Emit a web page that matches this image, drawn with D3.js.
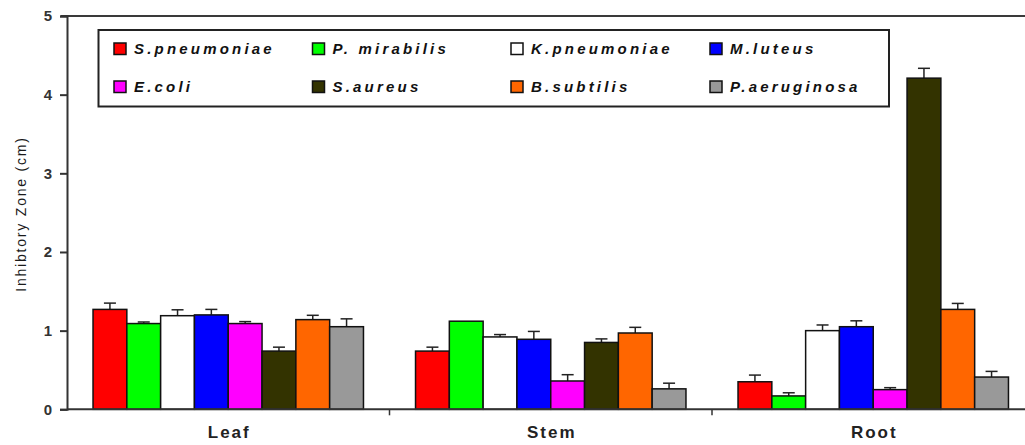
<!DOCTYPE html>
<html>
<head>
<meta charset="utf-8">
<script src="https://cdn.jsdelivr.net/npm/d3@7/dist/d3.min.js"></script>
<style>
html,body{margin:0;padding:0;background:#fff;}
svg{display:block;}
</style>
</head>
<body>
<svg id="chart" width="1025" height="445"></svg>
<script>
const categories = ["Leaf", "Stem", "Root"];
const seriesNames = ["S.pneumoniae", "P. mirabilis", "K.pneumoniae", "M.luteus", "E.coli", "S.aureus", "B.subtilis", "P.aeruginosa"];
const seriesColors = ["#ff0000", "#00ff00", "#ffffff", "#0000ff", "#ff00ff", "#333300", "#ff6600", "#999999"];
// values per series: [Leaf, Stem, Root]
const sPneumoniae = [1.27, 0.74, 0.35];
const pMirabilis = [1.09, 1.12, 0.17];
const kPneumoniae = [1.19, 0.92, 1.00];
const mLuteus = [1.20, 0.89, 1.05];
const eColi = [1.09, 0.36, 0.25];
const sAureus = [0.74, 0.85, 4.21];
const bSubtilis = [1.14, 0.97, 1.27];
const pAeruginosa = [1.05, 0.26, 0.41];
// error (upper) per series: [Leaf, Stem, Root]
const errSPneumoniae = [0.08, 0.05, 0.085];
const errPMirabilis = [0.02, 0.0, 0.04];
const errKPneumoniae = [0.075, 0.03, 0.072];
const errMLuteus = [0.07, 0.10, 0.075];
const errEColi = [0.025, 0.08, 0.025];
const errSAureus = [0.05, 0.045, 0.125];
const errBSubtilis = [0.055, 0.072, 0.076];
const errPAeruginosa = [0.10, 0.072, 0.072];
const yTicks = [0, 1, 2, 3, 4, 5];

const values = [sPneumoniae, pMirabilis, kPneumoniae, mLuteus, eColi, sAureus, bSubtilis, pAeruginosa];
const errors = [errSPneumoniae, errPMirabilis, errKPneumoniae, errMLuteus, errEColi, errSAureus, errBSubtilis, errPAeruginosa];

const svg = d3.select("#chart");
const x0 = d3.scaleBand().domain(categories).range([67, 1034.5]).paddingInner(0).paddingOuter(0);
const x1 = d3.scaleBand().domain(seriesNames).range([0, x0.bandwidth()]).paddingInner(0).paddingOuter(0.77);
const y = d3.scaleLinear().domain([0, 5]).range([409.3, 16]);

const axisColor = "#333";

// top frame line
svg.append("line").attr("x1", 61).attr("x2", 1025).attr("y1", y(5)).attr("y2", y(5))
  .attr("stroke", "#3a3a3a").attr("stroke-width", 2.2);

// bars
const data = [];
categories.forEach((c, ci) => {
  seriesNames.forEach((s, si) => {
    data.push({c, s, si, v: values[si][ci], e: errors[si][ci]});
  });
});

const g = svg.append("g");
g.selectAll("g.err").data(data.filter(d => d.e > 0)).join("g").attr("class", "err").each(function(d) {
  const cx = x0(d.c) + x1(d.s) + x1.bandwidth() / 2;
  const sel = d3.select(this);
  sel.append("line").attr("x1", cx).attr("x2", cx).attr("y1", y(d.v)).attr("y2", y(d.v + d.e))
    .attr("stroke", "#222").attr("stroke-width", 1.5);
  sel.append("line").attr("x1", cx - 6).attr("x2", cx + 6).attr("y1", y(d.v + d.e)).attr("y2", y(d.v + d.e))
    .attr("stroke", "#222").attr("stroke-width", 1.5);
});

g.selectAll("rect.bar").data(data).join("rect").attr("class", "bar")
  .attr("x", d => x0(d.c) + x1(d.s))
  .attr("y", d => y(d.v))
  .attr("width", x1.bandwidth())
  .attr("height", d => y(0) - y(d.v))
  .attr("fill", d => seriesColors[d.si])
  .attr("stroke", "#111").attr("stroke-width", 1.5);

// y axis
const yAxis = d3.axisLeft(y).tickValues(yTicks).tickSize(7).tickFormat(d3.format("d"));
const ya = svg.append("g").attr("transform", "translate(67,0)").call(yAxis);
ya.select(".domain").attr("stroke", axisColor).attr("stroke-width", 2);
ya.selectAll(".tick line").attr("stroke", axisColor).attr("stroke-width", 2);
ya.selectAll(".tick text").attr("x", -15).attr("fill", "#333")
  .style("font-family", "Liberation Sans, Arial, sans-serif").style("font-size", "15px").style("font-weight", "bold");

// x axis baseline with category separator ticks
svg.append("line").attr("x1", 67).attr("x2", 1025).attr("y1", y(0)).attr("y2", y(0))
  .attr("stroke", axisColor).attr("stroke-width", 2);
categories.forEach((c, i) => {
  if (i > 0) {
    svg.append("line").attr("x1", x0(c)).attr("x2", x0(c)).attr("y1", y(0)).attr("y2", y(0) + 6)
      .attr("stroke", axisColor).attr("stroke-width", 1.5);
  }
});
svg.selectAll("text.cat").data(categories).join("text").attr("class", "cat")
  .attr("x", d => x0(d) + x0.bandwidth() / 2 + 1)
  .attr("y", 438)
  .attr("text-anchor", "middle")
  .attr("fill", "#222")
  .style("font-family", "Liberation Sans, Arial, sans-serif").style("font-size", "17px").style("font-weight", "bold")
  .style("letter-spacing", "2px")
  .text(d => d);

// y label
svg.append("text").attr("transform", "translate(26,214) rotate(-90)")
  .attr("text-anchor", "middle").attr("fill", "#1a1a1a")
  .style("font-family", "Liberation Sans, Arial, sans-serif").style("font-size", "14px")
  .style("letter-spacing", "1.8px")
  .text("Inhibtory Zone (cm)");

// legend
svg.append("rect").attr("x", 98.5).attr("y", 30).attr("width", 790.5).attr("height", 76.5)
  .attr("fill", "#fff").attr("stroke", "#222").attr("stroke-width", 2);
const colX = [114, 312.5, 511, 710];
const rowY = [43, 81];
const lg = svg.selectAll("g.leg").data(seriesNames).join("g").attr("class", "leg")
  .attr("transform", (d, i) => `translate(${colX[i % 4]},${rowY[Math.floor(i / 4)]})`);
lg.append("rect").attr("width", 12).attr("height", 11.5)
  .attr("fill", (d, i) => seriesColors[i]).attr("stroke", "#111").attr("stroke-width", 1.5);
lg.append("text").attr("x", 20).attr("y", 10.5)
  .attr("fill", "#111")
  .style("font-family", "Liberation Sans, Arial, sans-serif").style("font-size", "15px")
  .style("font-weight", "bold").style("font-style", "italic").style("letter-spacing", "3.2px")
  .text(d => d);
</script>
</body>
</html>
